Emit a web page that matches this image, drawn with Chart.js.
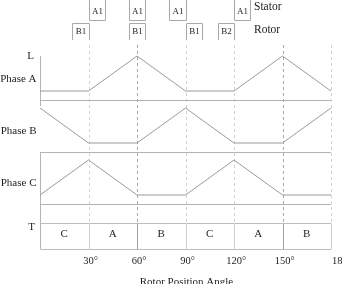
<!DOCTYPE html>
<html lang="en">
<head>
    <meta charset="UTF-8">
    <title>Rotor Position Angle</title>
    <style>
        body { margin: 0; background: #fff; }
        canvas { display: block; }
    </style>
</head>
<body>
    <canvas id="phaseChart" width="342" height="284"></canvas>

    <script src="https://cdn.jsdelivr.net/npm/chart.js"></script>
    <script>
        // rotor angle (degrees) and inductance level of each phase (0 = low, 1 = high)
        const angles = [0, 30, 60, 90, 120, 150, 180];
        const phaseA = [0, 0, 1, 0, 0, 1, 0];
        const phaseB = [1, 0, 0, 1, 0, 0, 1];
        const phaseC = [0, 1, 0, 0, 1, 0, 0];

        const tickValues = [30, 60, 90, 120, 150, 180];
        const tickLabels = ['30°', '60°', '90°', '120°', '150°', '180'];
        const strongLines = [60, 150];

        // torque row: phase conducting in each 30° sector
        const sectorStart = [0, 30, 60, 90, 120, 150];
        const sectorLabels = ['C', 'A', 'B', 'C', 'A', 'B'];

        // pole positions above the chart (start angle, 10° wide)
        const statorStart = [30, 55, 80, 120];
        const statorLabels = ['A1', 'A1', 'A1', 'A1'];
        const rotorStart = [20, 55, 90, 110];
        const rotorLabels = ['B1', 'B1', 'B1', 'B2'];
        const poleWidth = 10;

        const phaseNames = ['Phase A', 'Phase B', 'Phase C'];

        // vertical layout in y units (0 = bottom of torque row)
        const panelBase = [149, 97, 45];
        const lowLevel = 9;
        const amplitude = 35;
        const torqueTop = 26;

        const serif = '"Liberation Serif", "DejaVu Serif", serif';
        const waveColor = '#9a9a9a';

        function toPoints(levels, panel) {
            return angles.map((a, i) => ({ x: a, y: panelBase[panel] + lowLevel + levels[i] * amplitude }));
        }

        function waveDataset(levels, panel) {
            return {
                data: toPoints(levels, panel),
                borderColor: waveColor,
                borderWidth: 1,
                pointRadius: 0,
                tension: 0,
                clip: false
            };
        }

        const framePlugin = {
            id: 'frame',
            beforeDatasetsDraw(chart) {
                const ctx = chart.ctx;
                const xs = chart.scales.x;
                const ys = chart.scales.y;
                const area = chart.chartArea;
                ctx.save();
                ctx.lineWidth = 1;

                // dashed angle lines
                tickValues.forEach(v => {
                    const px = Math.round(xs.getPixelForValue(v)) + 0.5;
                    ctx.strokeStyle = strongLines.includes(v) ? '#a8a8a8' : '#d2d2d2';
                    ctx.setLineDash([3, 3]);
                    ctx.beginPath();
                    ctx.moveTo(px, area.top);
                    ctx.lineTo(px, ys.getPixelForValue(torqueTop));
                    ctx.stroke();
                });
                ctx.setLineDash([]);

                // panel baselines
                ctx.strokeStyle = '#b4b4b4';
                panelBase.forEach(b => {
                    const py = Math.round(ys.getPixelForValue(b)) + 0.5;
                    ctx.beginPath();
                    ctx.moveTo(xs.getPixelForValue(0), py);
                    ctx.lineTo(xs.getPixelForValue(180), py);
                    ctx.stroke();
                });

                // left axis
                const ax = Math.round(xs.getPixelForValue(0)) + 0.5;
                ctx.beginPath();
                ctx.moveTo(ax, area.top + 11);
                ctx.lineTo(ax, ys.getPixelForValue(panelBase[0] - 6));
                ctx.moveTo(ax, ys.getPixelForValue(panelBase[1]));
                ctx.lineTo(ax, ys.getPixelForValue(0));
                ctx.stroke();

                // torque row boxes
                const tTop = Math.round(ys.getPixelForValue(torqueTop)) + 0.5;
                const tBot = Math.round(ys.getPixelForValue(0)) + 0.5;
                ctx.strokeStyle = '#bdbdbd';
                ctx.beginPath();
                ctx.moveTo(ax, tTop);
                ctx.lineTo(xs.getPixelForValue(180), tTop);
                ctx.moveTo(ax, tBot);
                ctx.lineTo(xs.getPixelForValue(180), tBot);
                ctx.stroke();
                tickValues.forEach(v => {
                    const px = Math.round(xs.getPixelForValue(v)) + 0.5;
                    ctx.strokeStyle = strongLines.includes(v) ? '#a0a0a0' : '#d0d0d0';
                    ctx.beginPath();
                    ctx.moveTo(px, tTop);
                    ctx.lineTo(px, tBot);
                    ctx.stroke();
                });
                ctx.restore();
            },
            afterDraw(chart) {
                const ctx = chart.ctx;
                const xs = chart.scales.x;
                const ys = chart.scales.y;
                ctx.save();
                ctx.fillStyle = '#1e1e1e';
                ctx.textBaseline = 'middle';

                // torque sector letters
                ctx.font = '11px ' + serif;
                ctx.textAlign = 'center';
                sectorStart.forEach((s, i) => {
                    const px = xs.getPixelForValue(s + 15);
                    ctx.fillText(sectorLabels[i], px, ys.getPixelForValue(torqueTop * 0.58));
                });

                // left labels
                ctx.textAlign = 'right';
                ctx.font = '11px ' + serif;
                ctx.fillText('L', 34, ys.getPixelForValue(panelBase[0] + lowLevel + amplitude));
                phaseNames.forEach((n, i) => {
                    ctx.fillText(n, 36.5, ys.getPixelForValue(panelBase[i] + lowLevel + amplitude * 0.35));
                });
                ctx.fillText('T', 35, ys.getPixelForValue(torqueTop - 4));

                // angle tick labels
                ctx.textAlign = 'left';
                ctx.font = '10.5px ' + serif;
                const tickY = ys.getPixelForValue(0) + 12;
                tickValues.forEach((v, i) => {
                    const px = xs.getPixelForValue(v);
                    const numW = ctx.measureText(tickLabels[i].replace('°', '')).width;
                    // last label runs past the right edge in the source figure
                    const x = i === tickValues.length - 1 ? px + 1 : px - numW / 2;
                    ctx.fillText(tickLabels[i], x, tickY);
                });

                // axis title
                ctx.textAlign = 'center';
                ctx.textBaseline = 'alphabetic';
                ctx.font = '11px ' + serif;
                ctx.fillText('Rotor Position Angle', xs.getPixelForValue(90) + 1, ys.getPixelForValue(0) + 36);

                // stator and rotor poles
                ctx.lineWidth = 1;
                ctx.strokeStyle = '#a8a8a8';
                ctx.textBaseline = 'middle';
                ctx.font = '9px ' + serif;
                statorStart.forEach((s, i) => {
                    const x1 = Math.round(xs.getPixelForValue(s)) + 0.5;
                    const x2 = Math.round(xs.getPixelForValue(s + poleWidth)) + 0.5;
                    ctx.beginPath();
                    ctx.moveTo(x1, 0);
                    ctx.lineTo(x1, 20.5);
                    ctx.lineTo(x2, 20.5);
                    ctx.lineTo(x2, 0);
                    ctx.stroke();
                    ctx.fillText(statorLabels[i], (x1 + x2) / 2, 12);
                });
                rotorStart.forEach((s, i) => {
                    const x1 = Math.round(xs.getPixelForValue(s)) + 0.5;
                    const x2 = Math.round(xs.getPixelForValue(s + poleWidth)) + 0.5;
                    ctx.beginPath();
                    ctx.moveTo(x1, 40);
                    ctx.lineTo(x1, 23.5);
                    ctx.lineTo(x2, 23.5);
                    ctx.lineTo(x2, 40);
                    ctx.stroke();
                    ctx.fillText(rotorLabels[i], (x1 + x2) / 2, 32);
                });

                ctx.textAlign = 'left';
                ctx.font = '11.5px ' + serif;
                ctx.fillText('Stator', 254, 7);
                ctx.fillText('Rotor', 254, 30);
                ctx.restore();
            }
        };

        const ctx = document.getElementById('phaseChart').getContext('2d');
        const chart = new Chart(ctx, {
            type: 'line',
            data: {
                datasets: [
                    waveDataset(phaseA, 0),
                    waveDataset(phaseB, 1),
                    waveDataset(phaseC, 2)
                ]
            },
            options: {
                responsive: false,
                animation: false,
                devicePixelRatio: 1,
                layout: { padding: { left: 40, right: 11, top: 45, bottom: 35 } },
                plugins: {
                    legend: { display: false },
                    tooltip: { enabled: false }
                },
                scales: {
                    x: { type: 'linear', min: 0, max: 180, display: false },
                    y: { type: 'linear', min: 0, max: 204, display: false }
                }
            },
            plugins: [framePlugin]
        });
    </script>
</body>
</html>
